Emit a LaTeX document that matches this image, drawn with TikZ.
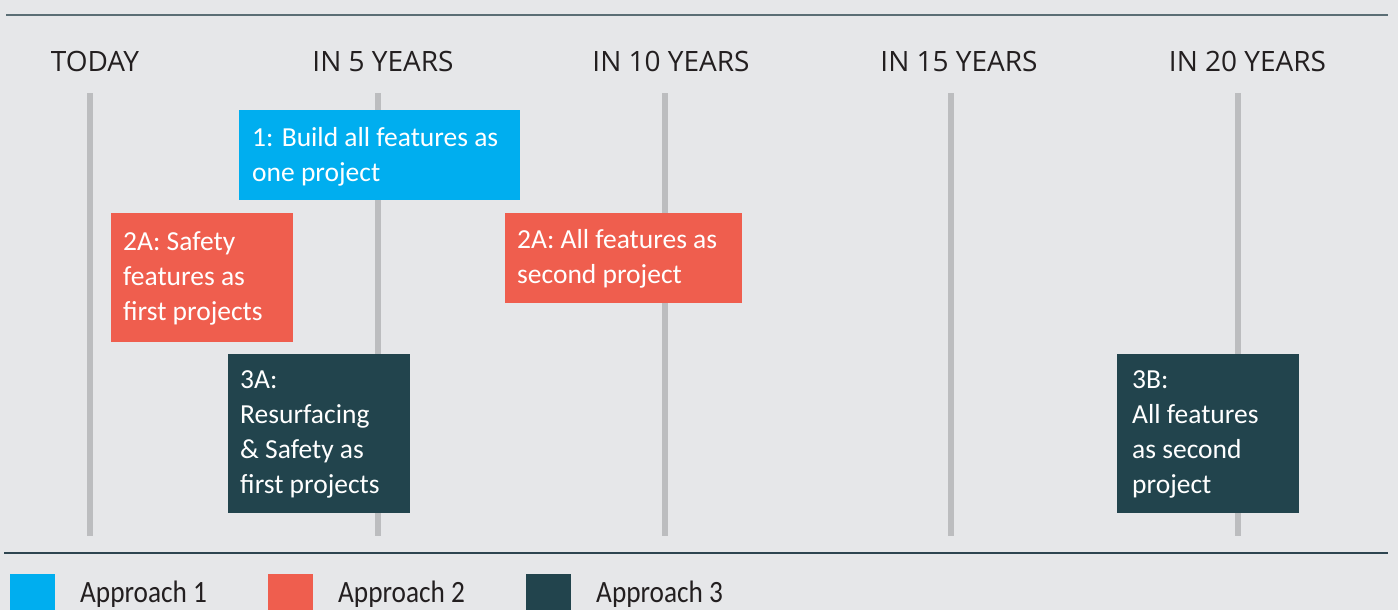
\documentclass[tikz,border=0pt]{standalone}
\usepackage{fontspec}
\setmainfont{Carlito}
\newfontfamily\headfont{Open Sans}
\newfontfamily\legfont[FakeStretch=0.88]{Carlito}
\definecolor{bg}{HTML}{E6E7E9}
\definecolor{tick}{HTML}{BCBDBF}
\definecolor{rulec}{HTML}{5B6E75}
\definecolor{rulec2}{HTML}{2E4550}
\definecolor{aone}{HTML}{00AEEF}
\definecolor{atwo}{HTML}{EF5E4E}
\definecolor{athree}{HTML}{22444D}
\definecolor{txt}{HTML}{231F20}
\tikzset{
  yearlab/.style={font=\headfont\fontsize{28}{32}\selectfont, text=txt, anchor=base, inner sep=0pt},
  tickline/.style={draw=tick, line width=6pt},
  boxfill/.style={anchor=north west, inner sep=0pt},
  boxtext/.style={anchor=west, text=white, inner sep=0pt,
    font=\fontsize{27.5}{35}\selectfont, align=left},
  legsq/.style={anchor=north west, minimum width=45pt, minimum height=36pt, inner sep=0pt},
  legtext/.style={font=\legfont\fontsize{31}{36}\selectfont, text=txt, anchor=base west, inner sep=0pt}
}
\begin{document}
\begin{tikzpicture}[x=1pt,y=-1pt]
\useasboundingbox[fill=bg] (0,0) rectangle (1398,610);
% rules
\coordinate (tl) at (6,15); \coordinate (tr) at (1388,15);
\coordinate (bl) at (4,553); \coordinate (br) at (1388,553);
\draw[rulec, line width=2pt] (tl) -- (tr);
\draw[rulec2, line width=2pt] (bl) -- (br);
% ticks
\foreach \x/\n in {90/a,378/b,665/c,951/d,1238/e}{
  \coordinate (t\n) at (\x,93); \coordinate (u\n) at (\x,536);
  \draw[tickline] (t\n) -- (u\n);
}
% labels
\node[yearlab] (y0) at (95,72) {TODAY};
\node[yearlab] (y5) at (383,72) {IN 5 YEARS};
\node[yearlab] (y10) at (671,72) {IN 10 YEARS};
\node[yearlab] (y15) at (959,72) {IN 15 YEARS};
\node[yearlab] (y20) at (1247.5,72) {IN 20 YEARS};
% boxes
\node[boxfill, fill=aone, minimum width=281pt, minimum height=90pt] (b1) at (239,110) {};
\node[boxtext] (b1t) at ([xshift=13pt,yshift=-2pt]b1.west) {1: Build all features as\\one project};
\node[boxfill, fill=atwo, minimum width=182pt, minimum height=129pt] (b2a) at (111,213) {};
\node[boxtext] (b2at) at ([xshift=12pt,yshift=-1pt]b2a.west) {2A: Safety\\features as\\first projects};
\node[boxfill, fill=atwo, minimum width=237pt, minimum height=90pt] (b2b) at (505,213) {};
\node[boxtext] (b2bt) at ([xshift=12pt,yshift=-1pt]b2b.west) {2A: All features as\\second project};
\node[boxfill, fill=athree, minimum width=182pt, minimum height=159pt] (b3a) at (228,354) {};
\node[boxtext] (b3at) at ([xshift=12pt,yshift=-1pt]b3a.west) {3A:\\Resurfacing\\\& Safety as\\first projects};
\node[boxfill, fill=athree, minimum width=182pt, minimum height=159pt] (b3b) at (1117,354) {};
\node[boxtext] (b3bt) at ([xshift=15pt,yshift=-1pt]b3b.west) {3B:\\All features\\as second\\project};
% legend
\node[legsq, fill=aone] (l1) at (10,574) {};
\node[legsq, fill=atwo] (l2) at (268,574) {};
\node[legsq, fill=athree] (l3) at (526,574) {};
\node[legtext] (lt1) at (80,602) {Approach 1};
\node[legtext] (lt2) at (338,602) {Approach 2};
\node[legtext] (lt3) at (596,602) {Approach 3};
\end{tikzpicture}
\end{document}
